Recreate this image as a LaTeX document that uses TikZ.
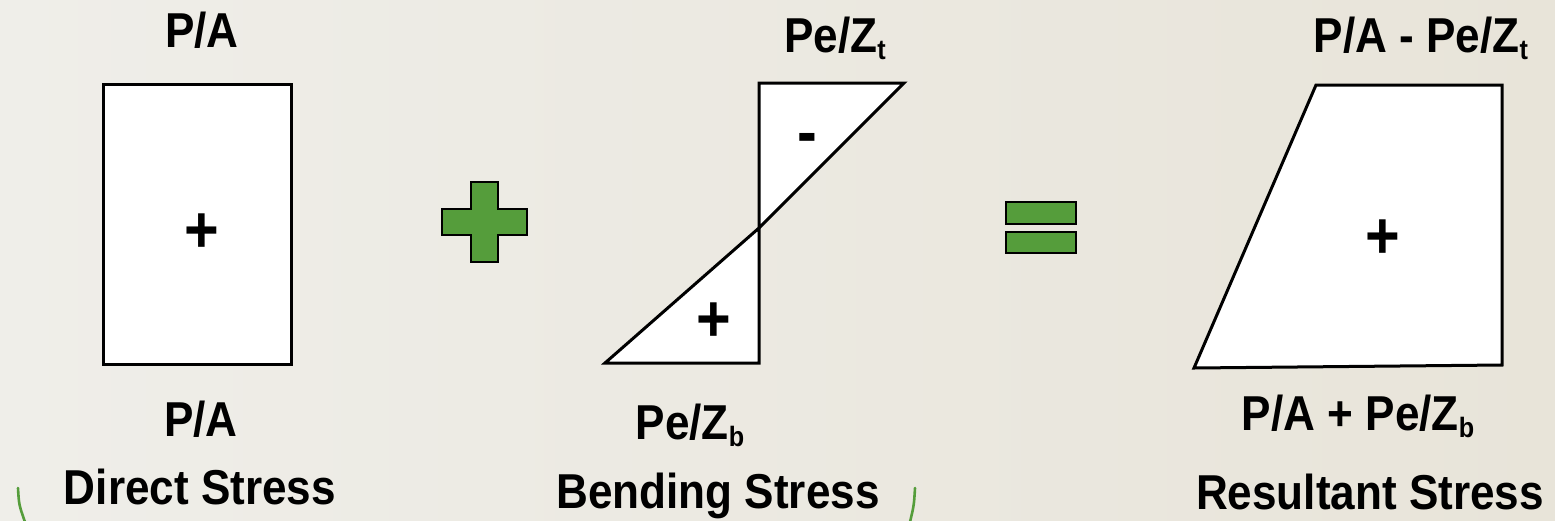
\documentclass[tikz,border=0pt]{standalone}
\usepackage{fontspec}
\setmainfont{Liberation Sans}[FakeStretch=0.9]
\definecolor{grn}{HTML}{559D3B}
\definecolor{bgl}{HTML}{EFEEE9}
\definecolor{bgm}{HTML}{FAFAF7}
\definecolor{bgr}{HTML}{E8E4D9}
\newcommand{\sbs}[1]{\raisebox{-7pt}{\fontsize{28}{28}\selectfont #1}}
\begin{document}
\begin{tikzpicture}[x=1pt,y=-1pt,
  lbl/.style={font=\fontsize{49}{52}\selectfont\bfseries, inner sep=0pt, anchor=base},
  sgn/.style={font=\fontsize{66}{66}\selectfont\bfseries, inner sep=0pt},
  diag/.style={draw=black, line width=3pt, fill=white, line join=miter},
  gsym/.style={draw=black, line width=2.2pt, fill=grn},
  brk/.style={draw=grn, line width=2.6pt, line cap=round}]
\useasboundingbox (0,0) rectangle (1555,520);
\shade[left color=bgl, middle color=bgm, right color=bgr] (0,0) rectangle (1555,520);

% Direct stress
\coordinate (r1a) at (103,84);
\coordinate (r1b) at (291,364);
\draw[diag] (r1a) rectangle (r1b);
\node[sgn] (p1) at (202,233) {+};
\node[lbl] (tpa) at (202,47) {P/A};
\node[lbl] (bpa) at (201,436) {P/A};
\node[lbl] (ds) at (200,504) {Direct Stress};

% plus sign
\draw[gsym] (471,182) -- (498,182) -- (498,209) -- (527,209) -- (527,235) -- (498,235)
  -- (498,262) -- (471,262) -- (471,235) -- (442,235) -- (442,209) -- (471,209) -- cycle;

% Bending stress
\coordinate (bt) at (759,83);
\coordinate (btr) at (904,83);
\coordinate (bx) at (759,228);
\coordinate (bb) at (759,363);
\coordinate (bbl) at (605,363);
\draw[diag] (bt) -- (btr) -- (bx) -- cycle;
\draw[diag] (bx) -- (bb) -- (bbl) -- cycle;
\node[sgn] (m2) at (807,144) {-};
\node[sgn] (p2) at (714,322) {+};
\node[lbl] (tpz) at (835,52) {Pe/Z\sbs{t}};
\node[lbl] (bpz) at (690,439) {Pe/Z\sbs{b}};
\node[lbl] (bs) at (718,508) {Bending Stress};

% equals sign
\draw[gsym] (1006,202) rectangle (1076,224);
\draw[gsym] (1006,232) rectangle (1076,253);

% Resultant stress
\coordinate (t1) at (1316,85);
\coordinate (t2) at (1502,85);
\coordinate (t3) at (1502,365);
\coordinate (t4) at (1194,368);
\draw[diag] (t1) -- (t2) -- (t3) -- (t4) -- cycle;
\node[sgn] (p3) at (1383,239) {+};
\node[lbl] (trs) at (1421,52) {P/A - Pe/Z\sbs{t}};
\node[lbl] (brs) at (1358,430) {P/A + Pe/Z\sbs{b}};
\node[lbl] (rs) at (1370,509) {Resultant Stress};

% green brackets
\coordinate (lb1) at (18,488);
\coordinate (lb2) at (25,522);
\coordinate (rb1) at (915,488);
\coordinate (rb2) at (910,522);
\draw[brk] (lb1) .. controls (19,505) .. (lb2);
\draw[brk] (rb1) .. controls (914,505) .. (rb2);
\end{tikzpicture}
\end{document}
